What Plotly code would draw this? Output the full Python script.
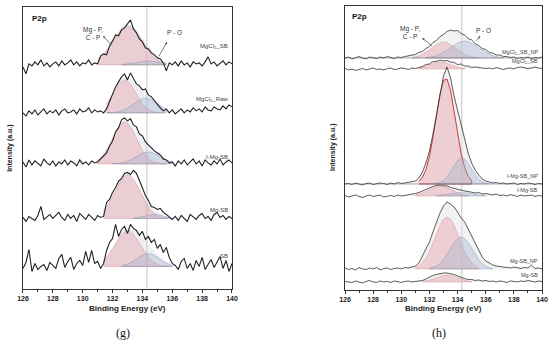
import plotly.graph_objects as go

# ---------------- data ----------------
E_L = [126.0, 126.2, 126.4, 126.6, 126.8, 127.0, 127.2, 127.4, 127.6, 127.8, 128.0, 128.2, 128.4, 128.6, 128.8,
       129.0, 129.2, 129.4, 129.6, 129.8, 130.0, 130.2, 130.4, 130.6, 130.8, 131.0, 131.2, 131.4, 131.6, 131.8,
       132.0, 132.2, 132.4, 132.6, 132.8, 133.0, 133.2, 133.4, 133.6, 133.8, 134.0, 134.2, 134.4, 134.6, 134.8,
       135.0, 135.2, 135.4, 135.6, 135.8, 136.0, 136.2, 136.4, 136.6, 136.8, 137.0, 137.2, 137.4, 137.6, 137.8,
       138.0, 138.2, 138.4, 138.6, 138.8, 139.0, 139.2, 139.4, 139.6, 139.8, 140.0]

E_R = [126.0, 126.25, 126.5, 126.75, 127.0, 127.25, 127.5, 127.75, 128.0, 128.25, 128.5, 128.75, 129.0, 129.25,
       129.5, 129.75, 130.0, 130.25, 130.5, 130.75, 131.0, 131.25, 131.5, 131.75, 132.0, 132.25, 132.5, 132.75,
       133.0, 133.25, 133.5, 133.75, 134.0, 134.25, 134.5, 134.75, 135.0, 135.25, 135.5, 135.75, 136.0, 136.25,
       136.5, 136.75, 137.0, 137.25, 137.5, 137.75, 138.0, 138.25, 138.5, 138.75, 139.0, 139.25, 139.5, 139.75, 140.0]

# panel (g): intensities (a.u.) relative to each trace's own baseline
g_MgCl2_SB = [-2, -9, 1, -1, 3, 0, 5, -1, 2, -2, 1, 3, -1, 4, 0, 2, 5, 0, 3, -1, 2, 1, 5, 0, 2, 1,
              9, 11, 10, 19, 24, 30, 29, 35, 37, 41, 45, 36, 32, 26, 23, 17, 16, 12, 10, 7, 6, 2, -6, 2, 0,
              3, -1, 4, 0, 2, -2, 3, 1, 2, -1, 3, 8, 1, 3, -1, 2, 4, 0, 3, 1]
g_MgCl2_Raw = [0, -3, 2, -1, 3, -2, 1, 4, -1, 2, 0, 3, -2, 2, 4, 0, 1, 3, -1, 4, 1, 2, 5, 0, 3, 1, 2, 0,
               4, 12, 19, 26, 31, 36, 39, 33, 40, 34, 29, 27, 23, 24, 18, 16, 12, 9, 5, 2, 4, 0, 3,
               -1, 2, 4, 0, 3, 1, 5, 2, 4, 1, 6, 3, 2, 6, 4, 3, 7, 4, 8, 6]
g_I_Mg_SB = [2, -3, 4, -1, 3, 0, -2, 5, 1, -1, 3, -2, 2, 0, 4, -1, 3, 1, -2, 4, 0, 2, -1, 3, 1, 2,
             5, 9, 11, 18, 23, 32, 36, 44, 46, 43, 45, 39, 37, 30, 28, 22, 19, 15, 13, 11, 9, 5, 4, 1, 2,
             -2, 3, 0, 4, -1, 2, 5, 0, 3, -2, 4, 1, -1, 3, 0, 5, -1, 2, 4, 1]
g_Mg_SB = [1, -3, 2, 0, -2, 3, 12, -1, 2, 4, 0, 3, 6, 1, -2, 4, 0, 3, -3, 5, 2, -1, 4, 1, -2, 3, 1,
           2, 16, 19, 26, 31, 37, 40, 45, 46, 44, 48, 45, 38, 30, 23, 18, 12, 11, 9, 10, 6, 4, 1, -1,
           2, -2, 3, 0, -3, 4, 1, -1, 3, 5, 0, 2, -2, 4, 6, 1, 3, -1, 2, 0]
g_SB = [-2, 4, 17, -5, 3, -3, 0, 2, -4, 4, 1, -2, 8, 12, -1, 5, 9, -3, 3, 6, 1, 15, 4, 16, 3, 5, -2, 3,
        16, 24, 28, 42, 30, 37, 40, 33, 42, 38, 36, 31, 35, 27, 30, 24, 27, 18, 22, 14, 19, 9, 3,
        1, -3, 5, 8, -2, 3, -4, 6, 0, 9, -3, 2, 7, -1, 4, 10, -2, 6, -5, 3]

# fitted components of panel (g): (start energy, values)
g_pink = [
    (131.0, [5.3, 7.7, 10.8, 14.6, 19.0, 23.7, 28.3, 32.6, 36.0, 38.2, 39.0, 38.2, 36.0, 32.6, 28.3, 23.7,
             19.0, 14.6, 10.8, 7.7, 5.3, 3.5, 2.2, 1.3]),
    (131.6, [9.2, 13.6, 18.7, 24.0, 28.6, 31.8, 33.0, 31.8, 28.6, 24.0, 18.7, 13.6, 9.2, 5.8, 3.4, 1.8,
             1.0, 0.5, 0.2, 0.1]),
    (131.0, [3.4, 5.7, 9.1, 13.7, 19.2, 25.5, 31.7, 37.0, 40.7, 42.0, 40.7, 37.0, 31.7, 25.5, 19.2, 13.7,
             9.1, 5.7, 3.4, 1.8, 1.0, 0.5, 0.2, 0.1]),
    (131.4, [7.5, 11.4, 16.2, 22.0, 28.2, 34.3, 39.4, 42.8, 44.0, 42.8, 39.4, 34.3, 28.2, 22.0, 16.2, 11.4,
             7.5, 4.7, 2.8, 1.5, 0.8, 0.4, 0.2]),
    (131.4, [6.1, 9.3, 13.3, 18.0, 23.1, 28.0, 32.2, 35.0, 36.0, 35.0, 32.2, 28.0, 23.1, 18.0, 13.3, 9.3,
             6.1, 3.8, 2.3, 1.3, 0.7, 0.3, 0.1, 0.0]),
]
g_blue = [
    (132.6, [0.3, 0.5, 0.9, 1.3, 1.8, 2.4, 3.1, 3.6, 3.9, 4.0, 3.9, 3.6, 3.1, 2.4, 1.8, 1.3]),
    (131.6, [0.2, 0.2, 0.35, 0.66, 1.2, 2.0, 3.2, 4.9, 6.9, 9.1, 11.3, 13.2, 14.5, 15.0, 14.5, 13.2, 11.3,
             9.1, 6.9, 4.9, 3.2]),
    (132.0, [0.1, 0.2, 0.5, 1.0, 1.7, 2.6, 4.0, 5.5, 7.3, 9.1, 10.6, 11.6, 12.0, 11.6, 10.6, 9.1, 7.3, 5.5,
             4.0, 2.6, 1.7]),
    (133.4, [0.3, 0.5, 1.0, 1.6, 2.4, 3.2, 3.8, 4.0, 3.8, 3.2, 2.4, 1.6, 1.0, 0.5]),
    (132.6, [0.7, 1.3, 2.3, 3.6, 5.3, 7.4, 9.4, 11.3, 12.5, 13.0, 12.5, 11.3, 9.4, 7.4, 5.3, 3.6, 2.3, 1.3]),
]
g_names = ["MgCl<sub>2</sub>_SB", "MgCl<sub>2</sub>_Raw", "I-Mg-SB", "Mg-SB", "SB"]
g_series = [g_MgCl2_SB, g_MgCl2_Raw, g_I_Mg_SB, g_Mg_SB, g_SB]

# panel (h)
h_MgCl2_SB_NP = [0, 1, -1, 0.5, 1.5, 0, -1, 1, 0.5, -0.5, 1, 0, 1.5, 0.5, -0.5, 1, 0.5, 1.5,
                 2, 3, 3.5, 5.5, 6.5, 9.5, 11.5, 15.5, 17.5, 21.5, 23.5, 26.5, 28, 27, 27.5, 24.5, 23, 19.5,
                 18, 14.5, 12.5, 9.5, 8.5, 5.5, 5, 3, 3, 1.5, 1.5,
                 0.5, 1, -0.5, 0.5, 0, 1, -0.5, 0.5, 0, 1]
h_MgCl2_SB = [0.5, -1, 0, -1.5, -0.5, 0.5, -1, 0, 1, -0.5, 0, -1, 0.5, 1, -0.5, 0, 1, 0.5, -0.5, 1, 0.5, 1.5,
              2.5, 4.5, 5, 7.5, 7.5, 9, 8, 8.5, 7, 6.5, 4.5, 5, 3, 3, 1.5, 2, 1.5, 1,
              0.5, 1, 0, 1.5, 0.5, -0.5, 0.5, 1, 0, 1.5, 2, 1, 0.5, 1, 2, 1, 0.5]
h_I_Mg_SB_NP = [0, 0.5, -0.5, 1, 0, -1, 0.5, 1, -0.5, 0, 1, 0.5, -0.5, 1, 0, 1.5, 0.5, 1, 1.5, 2,
                3, 6, 12, 21, 33, 50, 70, 90, 108, 117, 106, 88, 73, 58, 43, 31, 21, 14, 9, 5, 3, 2,
                1, 1.5, 0.5, 1, 0, 0.5, 1, -0.5, 0.5, 0, 1, 0.5, -0.5, 0.5, 0]
h_I_Mg_SB = [0.5, -1, 0, 1, -0.5, -1.5, 0, 1, -0.5, 0.5, 1, -1, 0, 0.5, -0.5, 1, 0, 0.5, 1, 1.5,
             2.5, 3.5, 5, 7, 8.5, 9.5, 10.5, 11, 10.5, 10, 8.5, 7.5, 6.5, 6, 5, 4.5, 4, 3, 3.5, 2, 2.5,
             1.5, 1, 2, 0.5, 1, 0, 1.5, 0.5, -0.5, 1, 0, 0.5, 1, -0.5, 0.5, 0]
h_Mg_SB_NP = [1, -0.5, 0.5, -1, 1.5, 0, -0.5, 1, 0, 1.5, -1, 0.5, 1, -0.5, 0.5, 1, 0, 1.5, 1, 2,
              3, 6, 13, 20, 27, 37, 47, 56, 63, 67, 65, 62, 57, 51, 47, 40, 33, 26, 18, 12, 8, 6, 4, 3, 2.5,
              2, 1.5, 1, 2, 1, 0.5, 1.5, 1, 4, 0.5, 1, 0]
h_Mg_SB = [0.5, 0, -0.5, 1, 0, -1, 0.5, 1.5, 0, -0.5, 1, 0, 0.5, -0.5, 1, 0, -0.5, 0.5, 1, 0, 0.5, 1,
           1.5, 3, 5, 6.5, 7.5, 8.5, 9, 9, 8.5, 7.5, 6, 4.5, 3.5, 2.5, 2.5, 1.5, 2,
           1, 1.5, 0.5, 1, 0, 1, 0.5, -0.5, 1, 0.5, 0, 1, 0.5, 1.5, 0.5, 0, 1, 0.5]

h_pink = [
    (130.75, [0.5, 1.0, 1.9, 3.4, 5.4, 8.0, 10.8, 13.5, 15.3, 16.0, 15.3, 13.5, 10.8, 8.0, 5.4, 3.4, 1.9,
              1.0, 0.5, 0.2]),
    (131.25, [0.9, 1.7, 2.9, 4.2, 5.6, 6.6, 7.0, 6.6, 5.6, 4.2, 2.9, 1.7, 0.9, 0.5]),
    (131.25, [2.7, 6.6, 14.3, 27.5, 46.4, 68.9, 90.0, 103.6, 104.9, 93.5, 73.4, 50.7, 30.8, 16.5, 7.8, 3.2]),
    (131.0, [0.9, 1.7, 3.0, 4.6, 6.4, 8.2, 9.5, 10.0, 9.5, 8.2, 6.4, 4.6, 3.0, 1.7, 0.9, 0.4]),
    (131.0, [1.6, 3.3, 6.2, 11.0, 17.6, 26.0, 35.3, 43.7, 49.8, 52.0, 49.8, 43.7, 35.3, 26.0, 17.6, 11.0,
             6.2, 3.3, 1.6]),
    (131.5, [0.5, 0.9, 1.7, 2.9, 4.2, 5.6, 6.6, 7.0, 6.6, 5.6, 4.2, 2.9, 1.7, 0.9, 0.5]),
]
h_blue = [
    (131.75, [0.4, 0.7, 1.4, 2.3, 3.7, 5.5, 7.8, 10.3, 12.8, 15.0, 16.5, 17.0, 16.5, 15.0, 12.8, 10.3, 7.8,
              5.5, 3.7, 2.3, 1.4, 0.7, 0.4]),
    None,
    (132.25, [0.2, 0.6, 1.5, 3.5, 7.1, 12.2, 18.2, 23.4, 25.9, 24.8, 20.5, 14.6, 8.9, 4.7, 2.2, 0.9, 0.3]),
    (132.5, [0.3, 0.6, 1.0, 1.6, 2.3, 2.9, 3.3, 3.5, 3.3, 2.9, 2.3, 1.6, 1.0, 0.6, 0.3]),
    (132.0, [0.6, 1.4, 2.9, 5.5, 9.4, 14.7, 20.6, 26.3, 30.5, 32.0, 30.5, 26.3, 20.6, 14.7, 9.4, 5.5, 2.9,
             1.4, 0.6]),
    None,
]
h_names = ["MgCl<sub>2</sub>_SB_NP", "MgCl<sub>2</sub>_SB", "I-Mg-SB_NP", "I-Mg-SB", "Mg-SB_NP", "Mg-SB"]
h_series = [h_MgCl2_SB_NP, h_MgCl2_SB, h_I_Mg_SB_NP, h_I_Mg_SB, h_Mg_SB_NP, h_Mg_SB]

P_O_ENERGY = 134.3
X_TICKS = [126, 128, 130, 132, 134, 136, 138, 140]

# ---------------- layout constants (stacking offsets, label placements) ----------------
g_offsets = [224, 176, 125, 70.5, 22.5]
g_label_y = [242, 189, 132, 79, 33]
h_offsets = [232, 221, 106, 94, 21, 8]
h_label_y = [237, 228, 114, 100, 29, 15]

FONT = "Arial, Liberation Sans, sans-serif"
PINK = "rgba(228,150,155,0.38)"
PINK_LINE = "rgba(200,110,115,0.55)"
BLUE = "rgba(160,178,205,0.38)"
BLUE_LINE = "rgba(110,128,165,0.6)"

fig = go.Figure()


def band(E, start, vals, base, xa, ya, fill, line, lw=0.6):
    i0 = E.index(start)
    xs = E[i0:i0 + len(vals)]
    x = list(xs) + list(xs[::-1])
    y = [base + v for v in vals] + [base] * len(xs)
    fig.add_trace(go.Scatter(x=x, y=y, xaxis=xa, yaxis=ya, mode="lines", fill="toself",
                             fillcolor=fill, line=dict(color=line, width=lw), hoverinfo="skip",
                             showlegend=False))


# panel (g)
for k, ser in enumerate(g_series):
    base = g_offsets[k]
    ps, pv = g_pink[k]
    bs, bv = g_blue[k]
    # fitted envelope (sum of components)
    env = {}
    for s, v in ((ps, pv), (bs, bv)):
        i0 = E_L.index(s)
        for j, val in enumerate(v):
            env[E_L[i0 + j]] = env.get(E_L[i0 + j], 0) + val
    ekeys = sorted(env)
    band(E_L, ekeys[0], [env[e] for e in ekeys], base, "x", "y", "rgba(205,212,228,0.35)",
         "rgba(0,0,0,0)", 0)
    band(E_L, ps, pv, base, "x", "y", PINK, PINK_LINE)
    band(E_L, bs, bv, base, "x", "y", BLUE, BLUE_LINE)
    fig.add_trace(go.Scatter(x=E_L, y=[base + v for v in ser], xaxis="x", yaxis="y", mode="lines",
                             line=dict(color="#222", width=1.1), showlegend=False, hoverinfo="skip"))
    fig.add_annotation(x=139.85, y=g_label_y[k], xref="x", yref="y", text=g_names[k], showarrow=False,
                       xanchor="right", yanchor="middle", font=dict(family=FONT, size=6, color="#444"))

# panel (h)
for k, ser in enumerate(h_series):
    base = h_offsets[k]
    # envelope fill under spectrum
    fig.add_trace(go.Scatter(x=E_R + E_R[::-1], y=[base + v for v in ser] + [base] * len(E_R),
                             xaxis="x2", yaxis="y2", mode="lines", fill="toself",
                             fillcolor="rgba(232,232,236,0.55)", line=dict(width=0, color="rgba(0,0,0,0)"),
                             showlegend=False, hoverinfo="skip"))
    ps, pv = h_pink[k]
    red = k == 2
    band(E_R, ps, pv, base, "x2", "y2", PINK, "rgba(200,40,40,0.9)" if red else PINK_LINE, 1.0 if red else 0.6)
    if h_blue[k] is not None:
        bs, bv = h_blue[k]
        band(E_R, bs, bv, base, "x2", "y2", BLUE, BLUE_LINE)
    if k in (0, 2):
        fig.add_trace(go.Scatter(x=[E_R[0], E_R[-1]], y=[base, base], xaxis="x2", yaxis="y2", mode="lines",
                                 line=dict(color="#777", width=0.6), showlegend=False, hoverinfo="skip"))
    fig.add_trace(go.Scatter(x=E_R, y=[base + v for v in ser], xaxis="x2", yaxis="y2", mode="lines",
                             line=dict(color="#333", width=0.8), showlegend=False, hoverinfo="skip"))
    fig.add_annotation(x=139.88, y=h_label_y[k], xref="x2", yref="y2", text=h_names[k], showarrow=False,
                       xanchor="right", yanchor="middle", font=dict(family=FONT, size=5.5, color="#444"))

# vertical reference lines
for xr, yr in (("x", "y"), ("x2", "y2")):
    fig.add_shape(type="line", x0=P_O_ENERGY, x1=P_O_ENERGY, y0=0, y1=1, xref=xr, yref=yr + " domain",
                  line=dict(color="#c4c4c4", width=1), layer="below")

# panel texts
small = dict(family=FONT, size=6.5, color="#333")
for xr, yr, p2p, mgp, arr1, po, arr2 in (
        ("x", "y", (126.47, 270), (130.69, 255), ((131.36, 253), (132.03, 242)), (136.18, 256),
         ((135.65, 247), (135.04, 231))),
        ("x2", "y2", (126.36, 273), (130.63, 257), ((131.48, 252), (132.26, 243)), (135.82, 259),
         ((135.61, 254), (135.25, 248)))):
    fig.add_annotation(x=p2p[0], y=p2p[1], xref=xr, yref=yr, text="<b>P2p</b>", showarrow=False,
                       xanchor="left", font=dict(family=FONT, size=8, color="#111"))
    fig.add_annotation(x=mgp[0], y=mgp[1], xref=xr, yref=yr, text="Mg - P,<br>C - P", showarrow=False,
                       font=small, align="center")
    fig.add_annotation(x=po[0], y=po[1], xref=xr, yref=yr, text="P - O", showarrow=False, font=small)
    for head, tail in (arr1, arr2):
        fig.add_annotation(x=head[0], y=head[1], ax=tail[0], ay=tail[1], xref=xr, yref=yr, axref=xr,
                           ayref=yr, text="", showarrow=True, arrowhead=2, arrowsize=0.6, arrowwidth=0.8,
                           arrowcolor="#555")

axis_common = dict(showline=True, linecolor="#333", linewidth=1, mirror=True, showgrid=False, zeroline=False,
                   automargin=False)
xcommon = dict(axis_common, range=[126, 140], tickvals=X_TICKS, ticks="outside", ticklen=3, tickcolor="#333",
               tickfont=dict(family=FONT, size=7, color="#222", weight="bold"),
               minor=dict(ticks="outside", ticklen=2, dtick=1, tickcolor="#333"))
ycommon = dict(axis_common, showticklabels=False, ticks="")

fig.update_layout(
    width=550, height=344, margin=dict(l=0, r=0, t=0, b=0, autoexpand=False),
    paper_bgcolor="white", plot_bgcolor="white", showlegend=False,
    xaxis=dict(xcommon, domain=[0.0418, 0.4218], anchor="y"),
    yaxis=dict(ycommon, domain=[0.160, 0.980], range=[0, 282], anchor="x"),
    xaxis2=dict(xcommon, domain=[0.6273, 0.9855], anchor="y2"),
    yaxis2=dict(ycommon, domain=[0.157, 0.9826], range=[0, 284], anchor="x2"),
)

title_font = dict(family=FONT, size=8, color="#222")
for xc, lbl, xt in ((0.2318, "(g)", 0.018), (0.8064, "(h)", 0.6055)):
    fig.add_annotation(x=xc, y=0.104, xref="paper", yref="paper", text="<b>Binding Energy (eV)</b>",
                       showarrow=False, font=title_font, xanchor="center", yanchor="middle")
    fig.add_annotation(x=xc - 0.008, y=0.032, xref="paper", yref="paper", text=lbl, showarrow=False,
                       xanchor="center", yanchor="middle",
                       font=dict(family="Liberation Serif, DejaVu Serif, serif", size=12, color="#111"))
    fig.add_annotation(x=xt, y=0.57, xref="paper", yref="paper", text="<b>Intensity (a.u.)</b>",
                       showarrow=False, textangle=-90, xanchor="center", yanchor="middle",
                       font=dict(family=FONT, size=7, color="#222"))

fig.write_html("out.html", config={"displayModeBar": False, "staticPlot": True},
               post_script="document.body.style.margin='0';document.body.style.overflow='hidden';")
